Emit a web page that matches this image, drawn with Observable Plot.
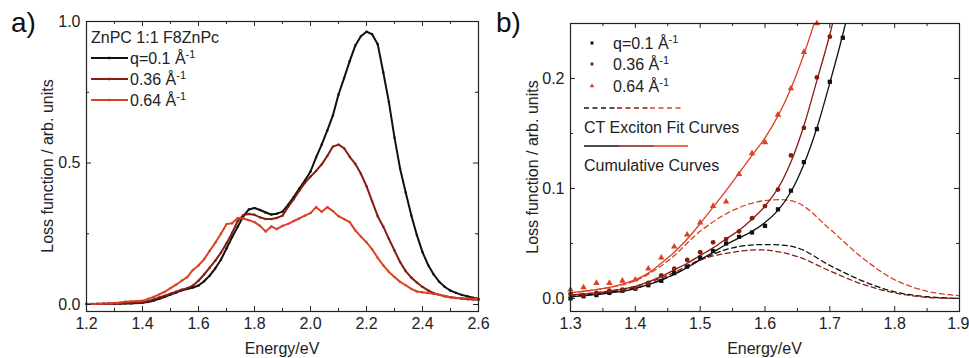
<!DOCTYPE html>
<html><head><meta charset="utf-8">
<script src="https://cdn.jsdelivr.net/npm/d3@7"></script>
<script src="https://cdn.jsdelivr.net/npm/@observablehq/plot@0.6"></script>
<style>
body{margin:0;background:#fff;}
#wrap{display:flex;width:969px;height:358px;overflow:hidden;}
#wrap svg{overflow:visible;background:transparent;flex:none;}
</style></head><body><div id="wrap"></div>
<script>
// ---------- Panel a data ----------
const energyA = [1.20,1.22,1.24,1.26,1.28,1.30,1.32,1.34,1.36,1.38,1.40,1.42,1.44,1.46,1.48,1.50,1.52,1.54,1.56,1.58,1.60,1.62,1.64,1.66,1.68,1.70,1.72,1.74,1.76,1.78,1.80,1.82,1.84,1.86,1.88,1.90,1.92,1.94,1.96,1.98,2.00,2.02,2.04,2.06,2.08,2.10,2.12,2.14,2.16,2.18,2.20,2.22,2.24,2.26,2.28,2.30,2.32,2.34,2.36,2.38,2.40,2.42,2.44,2.46,2.48,2.50,2.52,2.54,2.56,2.58,2.60];
const lossA_q010 = [0.002,0.002,0.002,0.002,0.003,0.003,0.003,0.004,0.004,0.005,0.006,0.009,0.014,0.020,0.027,0.035,0.042,0.050,0.055,0.060,0.067,0.082,0.102,0.128,0.158,0.198,0.238,0.275,0.312,0.336,0.341,0.334,0.325,0.318,0.321,0.328,0.352,0.380,0.410,0.438,0.470,0.520,0.565,0.615,0.668,0.742,0.800,0.860,0.915,0.948,0.964,0.955,0.920,0.820,0.715,0.590,0.480,0.396,0.315,0.245,0.185,0.140,0.106,0.080,0.062,0.049,0.041,0.034,0.029,0.024,0.020];
const lossA_q036 = [0.002,0.002,0.002,0.003,0.003,0.004,0.004,0.005,0.006,0.007,0.008,0.012,0.018,0.025,0.031,0.038,0.045,0.052,0.058,0.067,0.084,0.106,0.130,0.155,0.183,0.216,0.253,0.295,0.316,0.320,0.317,0.308,0.302,0.302,0.306,0.314,0.345,0.372,0.402,0.430,0.452,0.472,0.495,0.525,0.558,0.565,0.552,0.522,0.497,0.462,0.418,0.365,0.312,0.275,0.232,0.191,0.150,0.118,0.095,0.078,0.062,0.050,0.040,0.034,0.029,0.026,0.023,0.021,0.019,0.018,0.017];
const lossA_q064 = [0.002,0.002,0.003,0.003,0.004,0.005,0.007,0.010,0.011,0.012,0.013,0.020,0.027,0.036,0.045,0.058,0.070,0.084,0.097,0.122,0.138,0.160,0.190,0.218,0.250,0.284,0.287,0.306,0.304,0.298,0.291,0.278,0.258,0.276,0.266,0.278,0.285,0.295,0.304,0.314,0.323,0.344,0.328,0.344,0.330,0.312,0.302,0.291,0.262,0.240,0.220,0.195,0.165,0.138,0.115,0.097,0.080,0.068,0.055,0.046,0.043,0.041,0.038,0.034,0.030,0.026,0.023,0.022,0.021,0.020,0.019];
const xTicksA = [1.2,1.4,1.6,1.8,2.0,2.2,2.4,2.6];
const xMinorA = [1.3,1.5,1.7,1.9,2.1,2.3,2.5];
const yTicksA = [0.0,0.5,1.0];
const yMinorA = [0.25,0.75];

// ---------- Panel b data ----------
const energyB_q010 = [1.30,1.32,1.34,1.36,1.38,1.40,1.42,1.44,1.46,1.48,1.50,1.52,1.54,1.56,1.58,1.60,1.62,1.64,1.66,1.68,1.70,1.72];
const pointsB_q010 = [0.000,0.002,0.003,0.005,0.007,0.009,0.012,0.016,0.023,0.029,0.037,0.043,0.050,0.056,0.060,0.066,0.081,0.098,0.124,0.154,0.197,0.237];
const energyB_q036 = [1.30,1.32,1.34,1.36,1.38,1.40,1.42,1.44,1.46,1.48,1.50,1.52,1.54,1.56,1.58,1.60,1.62,1.64,1.66,1.68,1.70];
const pointsB_q036 = [0.004,0.003,0.005,0.007,0.008,0.009,0.014,0.021,0.027,0.035,0.042,0.051,0.054,0.061,0.073,0.084,0.099,0.130,0.155,0.201,0.238];
const energyB_q064 = [1.30,1.32,1.34,1.36,1.38,1.40,1.42,1.44,1.46,1.48,1.50,1.52,1.54,1.56,1.58,1.60,1.62,1.64,1.66,1.68];
const pointsB_q064 = [0.008,0.010,0.014,0.014,0.016,0.017,0.027,0.037,0.047,0.058,0.069,0.084,0.088,0.113,0.132,0.142,0.167,0.191,0.224,0.250];

const cumE = [1.30,1.32,1.34,1.36,1.38,1.40,1.42,1.44,1.46,1.48,1.50,1.52,1.54,1.56,1.58,1.60,1.62,1.64,1.66,1.68,1.70,1.72,1.74];
const cum_q010 = [0.0015,0.0025,0.0035,0.005,0.0065,0.009,0.0125,0.017,0.022,0.028,0.035,0.042,0.049,0.055,0.061,0.069,0.080,0.097,0.122,0.155,0.196,0.240,0.290];
const cum_q036 = [0.003,0.004,0.005,0.0065,0.0085,0.011,0.015,0.020,0.026,0.032,0.039,0.046,0.054,0.062,0.072,0.084,0.100,0.124,0.157,0.198,0.240,0.290,0.340];
const cum_q064 = [0.005,0.0065,0.008,0.010,0.013,0.017,0.023,0.032,0.042,0.054,0.068,0.083,0.098,0.114,0.130,0.146,0.166,0.191,0.222,0.258,0.300,0.340,0.380];

const ctE = [1.30,1.35,1.40,1.45,1.50,1.55,1.60,1.65,1.70,1.75,1.80,1.85,1.90];
const ct_q010 = [0.0015,0.005,0.0095,0.019,0.035,0.046,0.049,0.046,0.030,0.016,0.006,0.0015,0.000];
const ct_q036 = [0.003,0.006,0.011,0.021,0.035,0.042,0.044,0.038,0.025,0.013,0.005,0.001,0.000];
const ct_q064 = [0.005,0.009,0.016,0.034,0.061,0.080,0.089,0.087,0.063,0.037,0.017,0.0065,0.0025];

const xTicksB = [1.3,1.4,1.5,1.6,1.7,1.8,1.9];
const xMinorB = [1.35,1.45,1.55,1.65,1.75,1.85];
const yTicksB = [0.0,0.1,0.2];
const yMinorB = [0.05,0.15];

const seriesKeys = ["q010","q036","q064"];
const seriesColors = ["#111111","#861d12","#dc4124"];
const seriesLabels = ["q=0.1 Å","0.36 Å","0.64 Å"];

const FONT = '"Liberation Sans", Arial, Helvetica, sans-serif';
const INK = "#222";
const FS = 16;

function tidy(e, vals, key) { return e.map((x, i) => ({e: x, v: vals[i], s: key})); }

function frameTicks(xMaj, xMin, yMaj, yMin, fw, fh) {
  const M = 5, m = 3;
  const o = {stroke: INK, strokeWidth: 1};
  return [
    Plot.tickX(xMaj, {x: d => d, insetTop: fh - M, ...o}),
    Plot.tickX(xMaj, {x: d => d, insetBottom: fh - M, ...o}),
    Plot.tickX(xMin, {x: d => d, insetTop: fh - m, ...o}),
    Plot.tickX(xMin, {x: d => d, insetBottom: fh - m, ...o}),
    Plot.tickY(yMaj, {y: d => d, insetRight: fw - M, ...o}),
    Plot.tickY(yMaj, {y: d => d, insetLeft: fw - M, ...o}),
    Plot.tickY(yMin, {y: d => d, insetRight: fw - m, ...o}),
    Plot.tickY(yMin, {y: d => d, insetLeft: fw - m, ...o}),
    Plot.frame({stroke: INK, strokeWidth: 1.2})
  ];
}

function labelAxes(xMaj, yMaj, lastEnd) {
  const fmt = d => d.toFixed(1);
  const common = {anchor: "bottom", tickSize: 0, tickPadding: 6, tickFormat: fmt, label: null, fontSize: FS, fill: INK};
  const marks = [];
  if (lastEnd) {
    marks.push(Plot.axisX(xMaj.slice(0, -1), common));
    marks.push(Plot.axisX(xMaj.slice(-1), {...common, textAnchor: "end", dx: 10}));
  } else {
    marks.push(Plot.axisX(xMaj, common));
  }
  marks.push(Plot.axisY(yMaj, {anchor: "left", tickSize: 0, tickPadding: 6, tickFormat: fmt, label: null, fontSize: FS, fill: INK}));
  return marks;
}

function addTitles(svg, cx, cy, yx, panel, px) {
  const s = d3.select(svg);
  const g = s.append("g").attr("font-family", FONT).attr("fill", INK).attr("text-anchor", "start").attr("font-size", FS);
  g.append("text").attr("x", cx).attr("y", 348).attr("text-anchor", "middle").attr("dominant-baseline", "central").text("Energy/eV");
  g.append("text").attr("transform", `translate(${yx},${cy}) rotate(-90)`).attr("text-anchor", "middle").attr("dominant-baseline", "central").text("Loss function / arb. units");
  g.append("text").attr("x", px).attr("y", 32).attr("font-size", 28).attr("fill", "#111").text(panel);
  return g;
}

function supText(g, x, y, base, color) {
  const t = g.append("text").attr("x", x).attr("y", y + 6).attr("fill", color || INK);
  t.append("tspan").text(base);
  t.append("tspan").attr("font-size", 11).attr("dy", -6).text("-1");
  return t;
}

// ---------- Panel a ----------
const mA = {l: 86, r: 2, t: 21, b: 47, w: 480, h: 358};
const dataA = [...tidy(energyA, lossA_q010, "q010"), ...tidy(energyA, lossA_q036, "q036"), ...tidy(energyA, lossA_q064, "q064")];
const plotA = Plot.plot({
  width: mA.w, height: mA.h,
  marginLeft: mA.l, marginRight: mA.r, marginTop: mA.t, marginBottom: mA.b,
  style: {fontFamily: FONT, background: "transparent", overflow: "visible"},
  x: {domain: [1.2, 2.6]},
  y: {domain: [-0.0247, 1.0]},
  color: {domain: seriesKeys, range: seriesColors},
  marks: [
    Plot.line(dataA, {x: "e", y: "v", z: "s", stroke: "s", strokeWidth: 2}),
    Plot.dot(dataA, {x: "e", y: "v", fill: "s", symbol: "square", r: 1.2}),
    ...frameTicks(xTicksA, xMinorA, yTicksA, yMinorA, mA.w - mA.l - mA.r, mA.h - mA.t - mA.b),
    ...labelAxes(xTicksA, yTicksA, false)
  ]
});

// ---------- Panel b ----------
const mB = {l: 90, r: 10, t: 23, b: 47, w: 489, h: 358};
const ptsB = [...tidy(energyB_q010, pointsB_q010, "q010"), ...tidy(energyB_q036, pointsB_q036, "q036"), ...tidy(energyB_q064, pointsB_q064, "q064")];
const cumB = [...tidy(cumE, cum_q010, "q010"), ...tidy(cumE, cum_q036, "q036"), ...tidy(cumE, cum_q064, "q064")];
const ctB = [...tidy(ctE, ct_q010, "q010"), ...tidy(ctE, ct_q036, "q036"), ...tidy(ctE, ct_q064, "q064")];
const plotB = Plot.plot({
  width: mB.w, height: mB.h,
  marginLeft: mB.l, marginRight: mB.r, marginTop: mB.t, marginBottom: mB.b,
  style: {fontFamily: FONT, background: "transparent", overflow: "visible"},
  x: {domain: [1.3, 1.9]},
  y: {domain: [-0.0119, 0.25]},
  color: {domain: seriesKeys, range: seriesColors},
  symbol: {domain: seriesKeys, range: ["square", "circle", "triangle"]},
  marks: [
    Plot.line(ctB, {x: "e", y: "v", z: "s", stroke: "s", strokeWidth: 1.3, strokeDasharray: "5,3.5", curve: "catmull-rom", clip: true}),
    Plot.line(cumB, {x: "e", y: "v", z: "s", stroke: "s", strokeWidth: 1.3, curve: "catmull-rom", clip: true}),
    Plot.dot(ptsB, {x: "e", y: "v", fill: "s", symbol: "s", r: 2.4}),
    ...frameTicks(xTicksB, xMinorB, yTicksB, yMinorB, mB.w - mB.l - mB.r, mB.h - mB.t - mB.b),
    ...labelAxes(xTicksB, yTicksB, true)
  ]
});

const wrap = document.getElementById("wrap");
wrap.appendChild(plotA);
wrap.appendChild(plotB);

// Titles and legends
const gA = addTitles(plotA, (mA.l + mA.w - mA.r) / 2, (mA.t + mA.h - mA.b) / 2, 47, "a)", 11);
gA.append("text").attr("x", 91).attr("y", 37 + 6).text("ZnPC 1:1 F8ZnPc");
[58, 79, 100].forEach((y, i) => {
  gA.append("line").attr("x1", 91).attr("x2", 128).attr("y1", y).attr("y2", y).attr("stroke", seriesColors[i]).attr("stroke-width", 2);
  gA.append("rect").attr("x", 108).attr("y", y - 1.2).attr("width", 2.4).attr("height", 2.4).attr("fill", seriesColors[i]);
  supText(gA, 130, y, seriesLabels[i]);
});

const gB = addTitles(plotB, (mB.l + mB.w - mB.r) / 2, (mB.t + mB.h - mB.b) / 2, 52, "b)", 16);
const symB = [d3.symbolSquare, d3.symbolCircle, d3.symbolTriangle];
[43, 64, 86].forEach((y, i) => {
  gB.append("path").attr("transform", `translate(112,${y})`).attr("d", d3.symbol(symB[i], 9)()).attr("fill", seriesColors[i]);
  supText(gB, 133, y, seriesLabels[i]);
});
[[104,137],[137,170],[170,203]].forEach(([a, b], i) => {
  gB.append("line").attr("x1", a).attr("x2", b).attr("y1", 108).attr("y2", 108).attr("stroke", seriesColors[i]).attr("stroke-width", 1.3).attr("stroke-dasharray", "5,3.5");
});
gB.append("text").attr("x", 104).attr("y", 127 + 6).text("CT Exciton Fit Curves");
[[104,139],[139,174],[174,208]].forEach(([a, b], i) => {
  gB.append("line").attr("x1", a).attr("x2", b).attr("y1", 146).attr("y2", 146).attr("stroke", seriesColors[i]).attr("stroke-width", 1.3);
});
gB.append("text").attr("x", 104).attr("y", 165 + 6).text("Cumulative Curves");
</script>
</body></html>
